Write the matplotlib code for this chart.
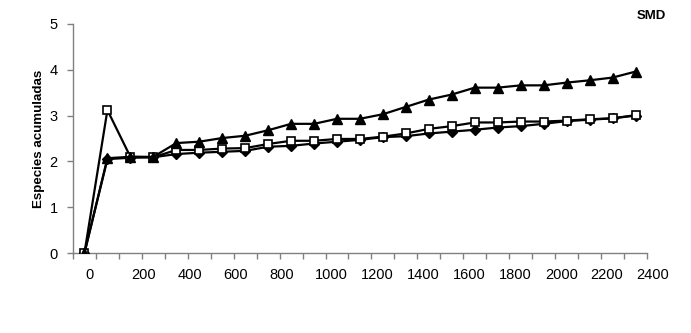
import matplotlib
matplotlib.use('Agg')
import matplotlib.pyplot as plt
import matplotlib.transforms as mtransforms

plt.rcParams['font.family'] = ['Liberation Sans', 'DejaVu Sans']

# datos (25 muestras)
triangulos = [0, 2.07, 2.1, 2.1, 2.4, 2.43, 2.51, 2.56, 2.68, 2.82, 2.82, 2.93, 2.93,
              3.03, 3.19, 3.35, 3.46, 3.61, 3.61, 3.66, 3.66, 3.72, 3.77, 3.83, 3.96]
cuadrados = [0, 3.12, 2.1, 2.09, 2.25, 2.25, 2.28, 2.29, 2.38, 2.45, 2.45, 2.49, 2.49,
             2.54, 2.61, 2.71, 2.77, 2.85, 2.85, 2.87, 2.87, 2.89, 2.92, 2.94, 3.01]
rombos = [0, 2.05, 2.08, 2.09, 2.16, 2.19, 2.21, 2.23, 2.32, 2.34, 2.39, 2.43, 2.47,
          2.53, 2.55, 2.61, 2.65, 2.69, 2.74, 2.77, 2.82, 2.88, 2.91, 2.94, 3.0]
x_labels = ['0', '200', '400', '600', '800', '1000', '1200', '1400', '1600',
            '1800', '2000', '2200', '2400']

n = len(triangulos)
x = list(range(n))

fig = plt.figure(figsize=(6.91, 3.33), dpi=100)
ax = fig.add_axes([0.1056, 0.2402, 0.8307, 0.6878])

ax.plot(x, rombos, color='black', lw=1.6, marker='D', ms=5, mfc='black', mec='black', zorder=3)
ax.plot(x, cuadrados, color='black', lw=1.6, marker='s', ms=6, mfc='white', mec='black', mew=1.2, zorder=4)
ax.plot(x, triangulos, color='black', lw=1.6, marker='^', ms=7.5, mfc='black', mec='black', zorder=5)

ax.set_xlim(-0.5, n - 0.5)
ax.set_ylim(0, 5)
ax.set_yticks(range(6))
ax.set_xticks([i - 0.5 for i in range(n + 1)])
ax.set_xticklabels([])

for s in ['top', 'right']:
    ax.spines[s].set_visible(False)
for s in ['left', 'bottom']:
    ax.spines[s].set_color('#808080')
    ax.spines[s].set_linewidth(1.0)
ax.tick_params(axis='both', colors='#808080', length=4, width=1.0, direction='out')
ax.tick_params(axis='y', labelcolor='black', labelsize=10.5, pad=7)

# etiquetas del eje x alineadas a la izquierda, cada 2 categorias
trans = mtransforms.blended_transform_factory(ax.transData, ax.transAxes)
for k, lab in enumerate(x_labels):
    ax.text(0.05 + 2 * k, -0.096, lab, transform=trans, ha='left', va='center',
            fontsize=10.5, color='black')

ax.set_ylabel('Especies acumuladas', fontsize=9.6, fontweight='bold', labelpad=3)
fig.text(0.942, 0.952, 'SMD', fontsize=9.5, fontweight='bold', ha='center', va='center')

fig.savefig('out.png', dpi=100)
